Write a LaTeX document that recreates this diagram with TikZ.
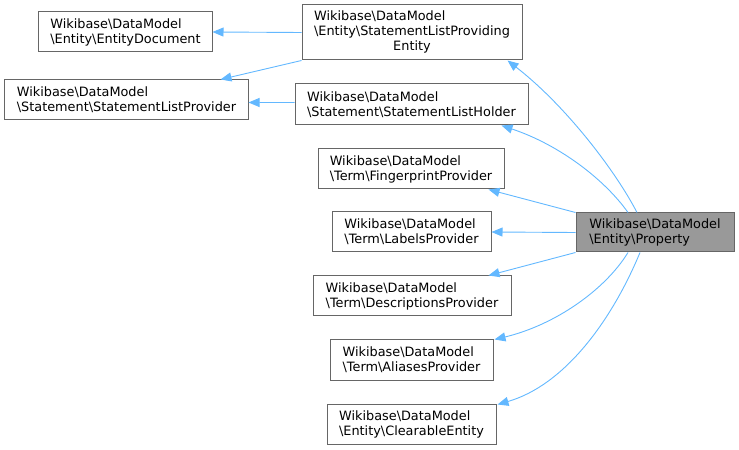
\documentclass[tikz,border=0pt]{standalone}
\usepackage{fontspec}
\setmainfont{DejaVu Sans}
\usetikzlibrary{arrows.meta}
\definecolor{edgeblue}{HTML}{63B8FF}
\definecolor{boxgray}{HTML}{666666}
\definecolor{fillgray}{HTML}{999999}
\begin{document}
\begin{tikzpicture}[x=1bp,y=-1bp,
  cls/.style={draw=boxgray,line width=1bp,inner sep=0pt,align=left,font=\fontsize{12.9}{15}\selectfont},
  inh/.style={draw=edgeblue,line width=0.9bp,-{Triangle[length=11bp,width=9bp]},fill=none},
]
\path[use as bounding box] (0,0) rectangle (739,450);

\node[cls,minimum width=173bp,minimum height=40bp] (ed) at (125.5,32) {Wikibase\textbackslash DataModel\\\textbackslash Entity\textbackslash EntityDocument};
\node[cls,minimum width=243bp,minimum height=40bp] (slp) at (126.5,100) {Wikibase\textbackslash DataModel\\\textbackslash Statement\textbackslash StatementListProvider};
\node[cls,minimum width=220bp,minimum height=55bp] (slpe) at (412,32.5) {\begin{tabular}{@{}l@{}}Wikibase\textbackslash DataModel\\\textbackslash Entity\textbackslash StatementListProviding\\\multicolumn{1}{@{}c@{}}{Entity}\end{tabular}};
\node[cls,minimum width=233bp,minimum height=41bp] (slh) at (411.5,104.5) {Wikibase\textbackslash DataModel\\\textbackslash Statement\textbackslash StatementListHolder};
\node[cls,minimum width=186bp,minimum height=40bp] (fp) at (411,169) {Wikibase\textbackslash DataModel\\\textbackslash Term\textbackslash FingerprintProvider};
\node[cls,minimum width=159bp,minimum height=40bp] (lp) at (411.5,232) {Wikibase\textbackslash DataModel\\\textbackslash Term\textbackslash LabelsProvider};
\node[cls,minimum width=198bp,minimum height=40bp] (dp) at (412,296) {Wikibase\textbackslash DataModel\\\textbackslash Term\textbackslash DescriptionsProvider};
\node[cls,minimum width=163bp,minimum height=40bp] (ap) at (411.5,360) {Wikibase\textbackslash DataModel\\\textbackslash Term\textbackslash AliasesProvider};
\node[cls,minimum width=169bp,minimum height=40bp] (ce) at (411.5,424) {Wikibase\textbackslash DataModel\\\textbackslash Entity\textbackslash ClearableEntity};
\node[cls,fill=fillgray,minimum width=158bp,minimum height=39bp] (p) at (655,232.5) {Wikibase\textbackslash DataModel\\\textbackslash Entity\textbackslash Property};

\draw[inh] (slpe.west) -- (ed.east);
\draw[inh] (slpe.south west) -- ([xshift=-28bp]slp.north east);
\draw[inh] ([yshift=2bp]slh.west) -- ([yshift=-2.5bp]slp.east);
\draw[inh] ([xshift=-18bp]p.north) .. controls (615,170) and (565,105) .. ([xshift=-15bp]slpe.south east);
\draw[inh] ([xshift=-27bp]p.north) .. controls (605,180) and (560,145) .. ([xshift=-27bp]slh.south east);
\draw[inh] (p.north west) -- ([xshift=-16bp]fp.south east);
\draw[inh] (p.west) -- (lp.east);
\draw[inh] (p.south west) -- ([xshift=-23bp]dp.north east);
\draw[inh] ([xshift=-27bp]p.south) .. controls (605,290) and (555,325) .. ([xshift=1bp]ap.north east);
\draw[inh] ([xshift=-15bp]p.south) .. controls (612,320) and (565,385) .. ([xshift=1bp,yshift=-1bp]ce.north east);
\end{tikzpicture}
\end{document}
